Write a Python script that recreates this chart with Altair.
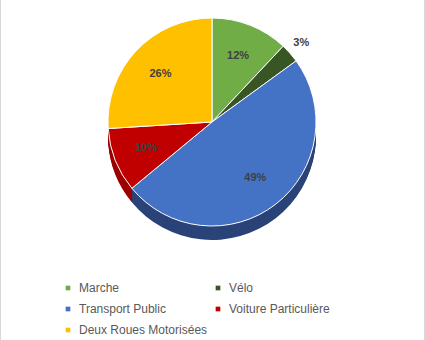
import altair as alt
import pandas as pd

categories = ["Marche", "Vélo", "Transport Public", "Voiture Particulière", "Deux Roues Motorisées"]
shares = [12, 3, 49, 10, 26]
labels = ["12%", "3%", "49%", "10%", "26%"]
colors = ["#70AD47", "#375623", "#4472C4", "#C00000", "#FFC000"]
side_colors = ["#507d33", "#26401a", "#2a4378", "#9c0000", "#c99700"]

df = pd.DataFrame({
    "cat": categories,
    "val": shares,
    "lab": labels,
    "k": list(range(len(categories))),
})

CX, CY, R, DEPTH = 212, 122, 104, 14

base = alt.Chart(df).encode(
    theta=alt.Theta("val:Q", stack=True),
    order=alt.Order("k:Q"),
)

side_layers = []
for i in range(DEPTH, 0, -1):
    side_layers.append(
        base.mark_arc(outerRadius=R).encode(
            color=alt.Color("cat:N", scale=alt.Scale(domain=categories, range=side_colors), legend=None),
            x=alt.value(CX),
            y=alt.value(CY + i),
        )
    )
side = alt.layer(*side_layers)

top = base.mark_arc(outerRadius=R, stroke="white", strokeWidth=1).encode(
    color=alt.Color(
        "cat:N",
        scale=alt.Scale(domain=categories, range=colors),
        legend=alt.Legend(
            title=None,
            orient="none",
            direction="horizontal",
            legendX=62,
            legendY=282,
            columns=2,
            symbolType="square",
            symbolSize=22,
            symbolStrokeWidth=0,
            labelFont="Liberation Sans",
            labelFontSize=12,
            labelColor="#595959",
            labelOffset=5,
            rowPadding=9,
            columnPadding=4,
            padding=0,
        ),
    ),
    x=alt.value(CX),
    y=alt.value(CY),
)

inner_text = base.mark_text(
    radius=R * 0.68, font="Liberation Sans", fontSize=11, fontWeight="bold", color="#404040"
).encode(
    text="lab:N",
    x=alt.value(CX),
    y=alt.value(CY),
    opacity=alt.condition("datum.val >= 5", alt.value(1), alt.value(0)),
)

outer_text = base.mark_text(
    radius=R + 15, font="Liberation Sans", fontSize=11, fontWeight="bold", color="#404040"
).encode(
    text="lab:N",
    x=alt.value(CX),
    y=alt.value(CY),
    opacity=alt.condition("datum.val < 5", alt.value(1), alt.value(0)),
)

edge_df = pd.DataFrame({"edge": ["frame"]})
left_edge = alt.Chart(edge_df).mark_rule(color="#d9d9d9", strokeWidth=1).encode(
    x=alt.value(0.5), y=alt.value(0), y2=alt.value(340)
)
right_edge = alt.Chart(edge_df).mark_rule(color="#d9d9d9", strokeWidth=1).encode(
    x=alt.value(424.5), y=alt.value(0), y2=alt.value(340)
)

chart = alt.layer(side, top, inner_text, outer_text, left_edge, right_edge).resolve_scale(
    color="independent"
).properties(
    width=425,
    height=340,
    padding=0,
    autosize=alt.AutoSizeParams(type="none"),
    background="white",
).configure_view(stroke=None)

chart.save("out.html", embed_options={"renderer": "svg", "actions": False})
